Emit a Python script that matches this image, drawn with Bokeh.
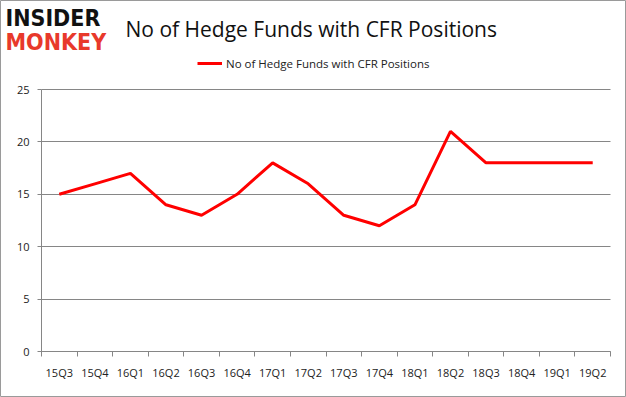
from bokeh.plotting import figure
from bokeh.models import (Range1d, FixedTicker, Label, Legend, LegendItem)
from bokeh.embed import file_html
from bokeh.resources import INLINE

quarters = ["15Q3", "15Q4", "16Q1", "16Q2", "16Q3", "16Q4", "17Q1", "17Q2",
            "17Q3", "17Q4", "18Q1", "18Q2", "18Q3", "18Q4", "19Q1", "19Q2"]
funds = [15, 16, 17, 14, 13, 15, 18, 16, 13, 12, 14, 21, 18, 18, 18, 18]
y_ticks = [0, 5, 10, 15, 20, 25]
series_name = "No of Hedge Funds with CFR Positions"
title_text = "No of Hedge Funds with CFR Positions"

FONT = "Open Sans"
GRID = "#868686"

n = len(quarters)
ymax = 25
xs = [i + 0.5 for i in range(n)]

W, H = 626, 397
# plot area inside the canvas (pixels): left 41, right 610, top 89, bottom 351
L, R, T, B = 41, 610, 89, 351
px_per_x = (R - L) / n
px_per_y = (B - T) / ymax
x_range = Range1d(-L / px_per_x, n + (W - R) / px_per_x)
y_range = Range1d(-(H - B) / px_per_y, ymax + T / px_per_y)

p = figure(width=W, height=H, output_backend="svg", toolbar_location=None,
           x_range=x_range, y_range=y_range,
           min_border_left=0, min_border_right=0, min_border_top=0,
           min_border_bottom=0)
p.outline_line_color = "#9a9a9a"
p.outline_line_width = 1
p.background_fill_color = "white"
p.border_fill_color = "white"

line = p.line(xs, funds, line_color="#FF0000", line_width=3)

p.xaxis.fixed_location = 0
p.xaxis.bounds = (0, n)
p.xaxis.ticker = FixedTicker(ticks=xs, minor_ticks=list(range(n + 1)))
p.xaxis.major_label_overrides = {x: q for x, q in zip(xs, quarters)}
p.xaxis.major_tick_line_color = None
p.xaxis.major_tick_out = 0
p.xaxis.major_tick_in = 0
p.xaxis.minor_tick_line_color = GRID
p.xaxis.minor_tick_out = 5
p.xaxis.minor_tick_in = 0
p.xaxis.axis_line_color = GRID
p.xaxis.major_label_standoff = 8
p.xaxis.major_label_text_font = FONT
p.xaxis.major_label_text_font_size = "11px"
p.xaxis.major_label_text_color = "#222222"
p.xgrid.grid_line_color = None

p.yaxis.fixed_location = 0
p.yaxis.bounds = (0, ymax)
p.yaxis.ticker = FixedTicker(ticks=y_ticks)
p.yaxis.minor_tick_line_color = None
p.yaxis.major_tick_line_color = GRID
p.yaxis.major_tick_out = 4
p.yaxis.major_tick_in = 0
p.yaxis.axis_line_color = GRID
p.yaxis.major_label_standoff = 8
p.yaxis.major_label_text_font = FONT
p.yaxis.major_label_text_font_size = "11px"
p.yaxis.major_label_text_color = "#222222"
p.ygrid.grid_line_color = GRID
p.ygrid.grid_line_width = 1
p.ygrid.bounds = (0, ymax)
p.ygrid.cross_bounds = (0, n)

legend = Legend(items=[LegendItem(label=series_name, renderers=[line])],
                location=(197, 324), orientation="horizontal",
                border_line_color=None, background_fill_alpha=0,
                padding=0, margin=0, glyph_width=25, glyph_height=20,
                label_height=20, label_standoff=4,
                label_text_font=FONT, label_text_font_size="11.5px",
                label_text_color="#222222")
p.add_layout(legend, "center")

p.add_layout(Label(x=125, y=369, x_units="screen", y_units="screen",
                   text=title_text, text_font=FONT, text_font_size="21px",
                   text_baseline="middle", text_color="#111111"))
p.add_layout(Label(x=5, y=380, x_units="screen", y_units="screen",
                   text="INSIDER", text_font="DejaVu Sans Condensed",
                   text_font_style="bold", text_font_size="23px",
                   text_baseline="middle", text_color="#111111"))
p.add_layout(Label(x=5, y=356, x_units="screen", y_units="screen",
                   text="MONKEY", text_font="DejaVu Sans Condensed",
                   text_font_style="bold", text_font_size="23px",
                   text_baseline="middle", text_color="#E8392B"))

open("out.html", "w").write(file_html(p, INLINE))
